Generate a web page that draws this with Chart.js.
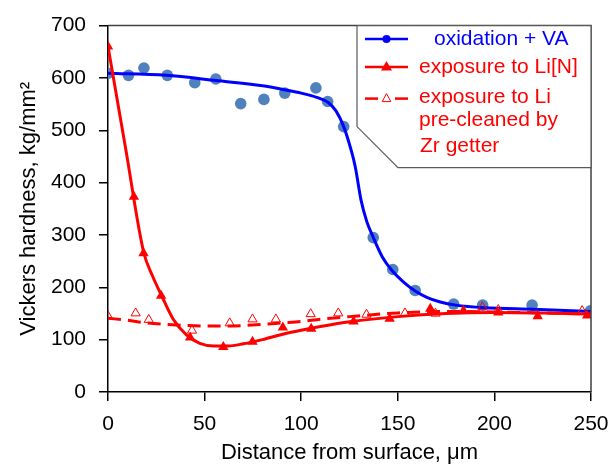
<!DOCTYPE html>
<html>
<head>
<meta charset="utf-8">
<script src="https://cdn.jsdelivr.net/npm/chart.js@4.4.1/dist/chart.umd.min.js"></script>
<style>
  html, body { margin: 0; padding: 0; background: #fff; }
</style>
</head>
<body>
<canvas id="hardnessChart" width="615" height="464"></canvas>
<script>
// oxidation + VA (measured points)
const oxX = [0, 10.6, 18.6, 30.7, 44.9, 55.8, 68.7, 80.7, 91.5, 107.6, 113.7, 122, 137.3, 147.4, 159, 178.9, 193.9, 219.5, 249.7];
const oxY = [609, 605, 619, 605, 591, 598, 551, 559, 571, 581, 555, 507, 295, 234, 194, 168, 166, 166, 155];
// oxidation + VA (fit curve)
const oxFitX = [0, 30, 56, 80, 92, 100, 108, 114, 118, 122, 126, 128, 131, 134, 137, 142, 147, 153, 159, 165, 172, 180, 195, 220, 250];
const oxFitY = [609, 605, 595, 585, 577, 571, 563, 553, 537, 507, 460, 430, 366, 325, 298, 258, 232, 210, 193, 181, 172, 166, 161, 158, 154];

// exposure to Li[N]
const liNX = [0, 13.4, 18.4, 27.5, 42.5, 59.7, 74.8, 90.5, 105.2, 127.1, 145.8, 166.8, 184, 202, 222.4, 248];
const liNY = [660, 373, 265, 184, 104, 86, 96, 123, 121, 134.5, 140, 159, 155, 152, 144.5, 146];
const liNFitX = [0, 9, 18.4, 23, 28, 33.6, 40.6, 47.5, 55, 62, 70, 80, 90, 100, 110, 125, 150, 175, 200, 225, 250];
const liNFitY = [660, 468, 268, 222, 182, 140, 109, 93, 88, 88, 92, 100, 110, 118, 125, 134, 144, 150, 152, 151, 149];

// exposure to Li pre-cleaned by Zr getter
const liX = [0, 14.3, 21.1, 43.5, 63, 74.8, 86.9, 104.9, 119.2, 133.8, 153.7, 169.5, 193.8, 202, 245.4];
const liY = [145, 150.5, 138, 117.5, 131.5, 139, 139, 149, 150.5, 148, 150.5, 150, 162, 157, 155];
const liFitX = [0, 10, 20, 30, 40, 50, 60, 70, 80, 90, 100, 110, 125, 150, 175, 200, 225, 250];
const liFitY = [141, 137, 132, 129, 127, 126, 126, 127, 129, 132, 135, 139, 144, 151, 154, 153, 151, 149];

// axis ticks
const xTicks = [0, 50, 100, 150, 200, 250];
const yTicks = [0, 100, 200, 300, 400, 500, 600, 700];

const FONT = "Arial, 'Liberation Sans', sans-serif";
const BLUE = "#0000FF";
const DOT = "#4F81BD";
const RED = "#FF0000";

const toPoints = (xs, ys) => xs.map((x, i) => ({ x: x, y: ys[i] }));

// top/right frame and the legend box with the cut corner
const frameAndLegend = {
  id: "frameAndLegend",
  afterDatasetsDraw(chart) {
    const { ctx, chartArea: a } = chart;
    ctx.save();

    ctx.strokeStyle = "#404040";
    ctx.lineWidth = 1.5;
    ctx.beginPath();
    ctx.moveTo(a.left, a.top);
    ctx.lineTo(a.right, a.top);
    ctx.lineTo(a.right, a.bottom);
    ctx.stroke();

    const L = a.right - 234, T = a.top, R = a.right, B = a.top + 142;
    ctx.beginPath();
    ctx.moveTo(L, T);
    ctx.lineTo(R, T);
    ctx.lineTo(R, B);
    ctx.lineTo(L + 41, B);
    ctx.lineTo(L, T + 101);
    ctx.closePath();
    ctx.fillStyle = "#fff";
    ctx.fill();
    ctx.strokeStyle = "#595959";
    ctx.lineWidth = 1.2;
    ctx.stroke();

    const sx0 = L + 8, sx1 = L + 51, sc = L + 29.5;
    // row 1
    let y = T + 13.5;
    ctx.strokeStyle = BLUE; ctx.lineWidth = 2.5;
    ctx.beginPath(); ctx.moveTo(sx0, y); ctx.lineTo(sx1, y); ctx.stroke();
    ctx.fillStyle = BLUE;
    ctx.beginPath(); ctx.arc(sc, y, 4, 0, Math.PI * 2); ctx.fill();
    // row 2
    y = T + 41.5;
    ctx.strokeStyle = RED;
    ctx.beginPath(); ctx.moveTo(sx0, y); ctx.lineTo(sx1, y); ctx.stroke();
    ctx.fillStyle = RED;
    ctx.beginPath();
    ctx.moveTo(sc, y - 6); ctx.lineTo(sc + 5.5, y + 3.5); ctx.lineTo(sc - 5.5, y + 3.5);
    ctx.closePath(); ctx.fill();
    // row 3
    y = T + 73;
    ctx.beginPath(); ctx.moveTo(sx0, y); ctx.lineTo(sx0 + 13, y); ctx.stroke();
    ctx.beginPath(); ctx.moveTo(sx1 - 13, y); ctx.lineTo(sx1, y); ctx.stroke();
    ctx.lineWidth = 1;
    ctx.beginPath();
    ctx.moveTo(sc, y - 5); ctx.lineTo(sc + 4.3, y + 3); ctx.lineTo(sc - 4.3, y + 3);
    ctx.closePath(); ctx.stroke();

    ctx.font = "21px " + FONT;
    ctx.textBaseline = "middle";
    ctx.textAlign = "left";
    ctx.fillStyle = BLUE;
    ctx.fillText("oxidation + VA", L + 77, T + 13.5);
    ctx.fillStyle = RED;
    ctx.fillText("exposure to Li[N]", L + 62, T + 41.5);
    ctx.fillText("exposure to Li", L + 62, T + 72);
    ctx.fillText("pre-cleaned by", L + 62, T + 95);
    ctx.fillText("Zr getter", L + 63, T + 121);
    ctx.restore();
  }
};

const ctx = document.getElementById("hardnessChart").getContext("2d");
new Chart(ctx, {
  type: "scatter",
  data: {
    datasets: [
      {
        label: "oxidation + VA",
        data: toPoints(oxX, oxY),
        showLine: false,
        pointStyle: "circle",
        pointRadius: 5.8,
        backgroundColor: DOT,
        borderWidth: 0,
        order: 6,
      },
      {
        label: "oxidation + VA fit",
        data: toPoints(oxFitX, oxFitY),
        showLine: true,
        pointRadius: 0,
        borderColor: BLUE,
        borderWidth: 3,
        cubicInterpolationMode: "monotone",
        order: 5,
      },
      {
        label: "exposure to Li fit",
        data: toPoints(liFitX, liFitY),
        showLine: true,
        pointRadius: 0,
        borderColor: RED,
        borderWidth: 3,
        borderDash: [13, 7],
        cubicInterpolationMode: "monotone",
        order: 4,
      },
      {
        label: "exposure to Li pre-cleaned by Zr getter",
        data: toPoints(liX, liY),
        showLine: false,
        pointStyle: "triangle",
        pointRadius: 5.3,
        backgroundColor: "rgba(255,255,255,0)",
        borderColor: RED,
        borderWidth: 1,
        order: 3,
      },
      {
        label: "exposure to Li[N] fit",
        data: toPoints(liNFitX, liNFitY),
        showLine: true,
        pointRadius: 0,
        borderColor: RED,
        borderWidth: 3,
        cubicInterpolationMode: "monotone",
        order: 2,
      },
      {
        label: "exposure to Li[N]",
        data: toPoints(liNX, liNY),
        showLine: false,
        pointStyle: "triangle",
        pointRadius: 6,
        backgroundColor: RED,
        borderColor: RED,
        borderWidth: 0,
        order: 1,
      },
    ],
  },
  options: {
    responsive: false,
    animation: false,
    devicePixelRatio: 1,
    layout: { padding: { top: 25, right: 24, left: 0, bottom: 0 } },
    plugins: {
      legend: { display: false },
      tooltip: { enabled: false },
    },
    scales: {
      x: {
        type: "linear",
        min: 0,
        max: 250,
        afterBuildTicks: (s) => { s.ticks = xTicks.map((v) => ({ value: v })); },
        afterFit: (s) => {
          s.height = 72;
          // keep the plot edge fixed; the last label fits inside the right padding
          s.paddingLeft = 0;
          s.paddingRight = 0;
        },
        grid: { drawOnChartArea: false, drawTicks: true, tickLength: 9, color: "#000", lineWidth: 1.5 },
        border: { color: "#000", width: 1.5 },
        ticks: { color: "#000", font: { family: FONT, size: 21 }, padding: 11, maxRotation: 0 },
        title: {
          display: true,
          text: "Distance from surface, μm",
          color: "#000",
          font: { family: FONT, size: 22 },
          padding: { top: 0, bottom: -2 },
        },
      },
      y: {
        type: "linear",
        min: 0,
        max: 700,
        afterBuildTicks: (s) => { s.ticks = yTicks.map((v) => ({ value: v })); },
        afterFit: (s) => { s.width = 108; },
        grid: { drawOnChartArea: false, drawTicks: true, tickLength: 9, color: "#000", lineWidth: 1.5 },
        border: { color: "#000", width: 1.5 },
        ticks: { color: "#000", font: { family: FONT, size: 21 }, padding: 13 },
        title: {
          display: true,
          text: "Vickers hardness, kg/mm²",
          color: "#000",
          font: { family: FONT, size: 22 },
          padding: { top: 16, bottom: 0 },
        },
      },
    },
  },
  plugins: [frameAndLegend],
});
</script>
</body>
</html>
